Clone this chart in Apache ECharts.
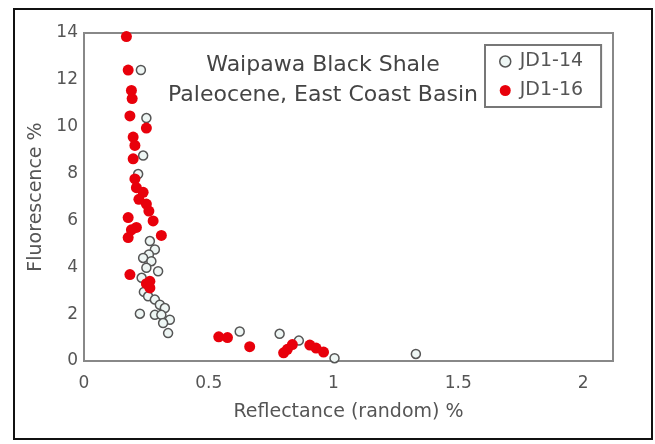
<!DOCTYPE html>
<html>
<head>
<meta charset="utf-8">
<script src="https://cdn.jsdelivr.net/npm/echarts@6/dist/echarts.min.js"></script>
<style>
  html, body { margin: 0; padding: 0; background: #fff; }
  #frame { position: absolute; left: 13px; top: 8px; width: 636px; height: 428px; border: 2px solid #111; box-sizing: content-box; }
  #chart { position: absolute; left: 0; top: 0; width: 655px; height: 444px; }
</style>
</head>
<body>
<div id="frame"></div>
<div id="chart"></div>
<script>
  // JD1-14 (open circles): [reflectance %, fluorescence %]
  const jd114 = [
    [0.228, 12.42], [0.25, 10.37], [0.237, 8.77], [0.217, 7.98],
    [0.264, 5.12], [0.284, 4.76], [0.26, 4.55], [0.237, 4.4], [0.27, 4.26],
    [0.25, 3.98], [0.297, 3.83], [0.231, 3.55], [0.24, 2.95], [0.257, 2.76],
    [0.284, 2.62], [0.304, 2.4], [0.324, 2.26], [0.224, 2.02], [0.284, 1.97],
    [0.31, 1.97], [0.344, 1.76], [0.317, 1.62], [0.337, 1.19],
    [0.624, 1.26], [0.784, 1.16], [0.861, 0.87], [1.004, 0.12], [1.33, 0.3]
  ]
  // JD1-16 (filled red)
  const jd116 = [
    [0.17, 13.85], [0.177, 12.42], [0.19, 11.55], [0.193, 11.2], [0.184, 10.46],
    [0.25, 9.94], [0.197, 9.56], [0.204, 9.2], [0.197, 8.63], [0.204, 7.77],
    [0.21, 7.4], [0.237, 7.2], [0.22, 6.9], [0.25, 6.7], [0.26, 6.4],
    [0.177, 6.12], [0.277, 5.98], [0.21, 5.7], [0.19, 5.6], [0.31, 5.36],
    [0.177, 5.27], [0.184, 3.69], [0.264, 3.4], [0.25, 3.3], [0.264, 3.12],
    [0.54, 1.03], [0.575, 1.0], [0.664, 0.61], [0.8, 0.35], [0.815, 0.5],
    [0.835, 0.7], [0.905, 0.68], [0.93, 0.55], [0.96, 0.38]
  ]
  const xTicks = [0, 0.5, 1, 1.5, 2]
  const yTicks = [0, 2, 4, 6, 8, 10, 12, 14]
  const titleLines = ['Waipawa Black Shale', 'Paleocene, East Coast Basin']

  const font = 'DejaVu Sans'
  const textGray = '#555'
  const chart = echarts.init(document.getElementById('chart'))
  chart.setOption({
    animation: false,
    textStyle: { fontFamily: font },
    grid: {
      left: 84, top: 33, right: 42, bottom: 83,
      show: true, borderColor: '#888', borderWidth: 2, backgroundColor: '#fff'
    },
    title: {
      text: titleLines.join('\n'),
      left: 318, top: 45, textAlign: 'center',
      textStyle: { fontFamily: font, fontSize: 22, fontWeight: 'normal', color: '#444', lineHeight: 30 }
    },
    legend: {
      orient: 'vertical',
      left: 485, top: 45,
      padding: [7, 18, 7, 14],
      itemGap: 10,
      borderColor: '#777', borderWidth: 2,
      backgroundColor: '#fff',
      itemWidth: 11, itemHeight: 11,
      textStyle: { fontFamily: font, fontSize: 19, color: textGray, padding: [0, 0, 0, 4] },
      data: [
        { name: 'JD1-14', icon: 'circle', itemStyle: { color: '#eef6f4', borderColor: '#555', borderWidth: 1.5 } },
        { name: 'JD1-16', icon: 'circle', itemStyle: { color: '#e8000b' } }
      ]
    },
    xAxis: {
      type: 'value', min: 0, max: 2.12, interval: 0.5,
      name: 'Reflectance (random) %', nameLocation: 'middle', nameGap: 42,
      nameTextStyle: { fontFamily: font, fontSize: 19, color: textGray },
      axisLine: { lineStyle: { color: '#888', width: 2 } },
      axisTick: { show: false },
      splitLine: { show: false },
      axisLabel: {
        margin: 14, fontSize: 17, color: textGray, showMaxLabel: false,
        formatter: v => xTicks.includes(v) ? String(v) : ''
      }
    },
    yAxis: {
      type: 'value', min: 0, max: 14, interval: 2,
      name: 'Fluorescence %', nameLocation: 'middle', nameGap: 37,
      nameTextStyle: { fontFamily: font, fontSize: 19, color: textGray },
      axisLine: { lineStyle: { color: '#888', width: 2 } },
      axisTick: { show: false },
      splitLine: { show: false },
      axisLabel: {
        margin: 6, fontSize: 17, color: textGray,
        formatter: v => yTicks.includes(v) ? String(v) : ''
      }
    },
    series: [
      {
        name: 'JD1-14', type: 'scatter', data: jd114, symbol: 'circle', symbolSize: 9,
        itemStyle: { color: '#eef6f4', borderColor: '#555', borderWidth: 1.5, opacity: 1 }
      },
      {
        name: 'JD1-16', type: 'scatter', data: jd116, symbol: 'circle', symbolSize: 11,
        itemStyle: { color: '#e8000b', opacity: 1 }
      }
    ]
  })
</script>
</body>
</html>
